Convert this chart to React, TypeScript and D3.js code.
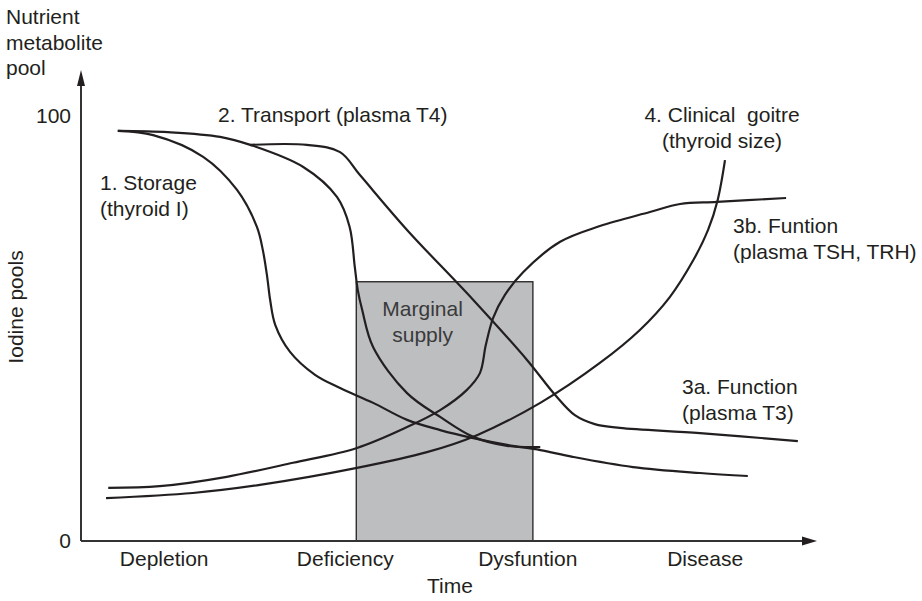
import React from "react";
import * as d3 from "d3";

// ---- data (time 0-100, pool 0-100) ----
const categories = ["Depletion", "Deficiency", "Dysfuntion", "Disease"];
const categoryTimes = [11.3, 35.9, 60.7, 84.8];
const yTicks = [0, 100];

const storageX = [5.0, 9.8, 16.6, 21.2, 23.9, 24.7, 25.3, 25.7, 26.4, 28.4, 31.8, 35.2, 39.7, 44.3, 48.8, 53.3, 57.9, 62.4, 66.8, 75.0, 84.1, 90.6];
const storageY = [96.5, 95.5, 90.4, 82.6, 73.9, 68.5, 62.1, 56.7, 50.8, 44.5, 39.1, 36.0, 32.5, 28.5, 26.1, 24.2, 22.6, 21.4, 19.8, 17.4, 16.0, 15.3];

const transportX = [5.0, 11.8, 18.9, 23.0, 30.2, 34.8, 36.5, 37.2, 37.6, 38.2, 39.7, 44.3, 48.8, 53.3, 57.9, 62.4];
const transportY = [96.5, 96.2, 95.1, 93.2, 88.0, 80.9, 73.9, 64.5, 59.1, 54.4, 45.6, 34.8, 29.2, 24.5, 22.4, 22.1];

const t3X = [23.0, 30.7, 35.2, 37.9, 44.3, 53.3, 60.6, 64.4, 67.1, 69.8, 73.2, 84.1, 97.4];
const t3Y = [93.2, 93.2, 91.5, 86.1, 73.2, 56.7, 42.6, 34.4, 29.6, 27.5, 26.6, 25.4, 23.5];

const tshX = [3.7, 10.7, 19.8, 28.8, 37.5, 44.3, 48.8, 52.4, 54.2, 55.0, 56.0, 57.6, 60.1, 65.1, 70.5, 77.3, 81.4, 86.4, 95.8];
const tshY = [12.5, 12.9, 15.1, 18.4, 21.9, 26.8, 30.8, 35.5, 39.5, 46.1, 52.5, 57.9, 63.3, 70.4, 74.1, 77.4, 79.3, 79.8, 80.7];

const goitreX = [3.4, 15.2, 24.3, 37.5, 47.0, 53.8, 62.4, 70.5, 75.9, 80.0, 83.2, 85.2, 86.5, 87.5];
const goitreY = [10.1, 11.3, 13.2, 17.2, 20.9, 24.9, 32.5, 41.9, 49.6, 57.4, 66.1, 73.2, 80.2, 89.6];

const marginalStart = 37.4;
const marginalEnd = 61.4;
const marginalLevel = 61;

const series = [
  { name: "storage", xs: storageX, ys: storageY },
  { name: "transport", xs: transportX, ys: transportY },
  { name: "t3", xs: t3X, ys: t3Y },
  { name: "tsh", xs: tshX, ys: tshY },
  { name: "goitre", xs: goitreX, ys: goitreY },
];

// ---- layout ----
const W = 922;
const H = 601;
const X0 = 81;
const X1 = 817;
const Y0 = 541;
const YTOP = 70;
const FONT = "'Liberation Sans', Arial, Helvetica, sans-serif";
const INK = "#231f20";
const FS = 21;

const annotations = [
  { lines: ["1. Storage", "(thyroid I)"], x: 100, y: 183, anchor: "start" },
  { lines: ["2. Transport (plasma T4)"], x: 218, y: 115, anchor: "start" },
  { lines: ["4. Clinical\u00a0 goitre", "(thyroid size)"], x: 722, y: 115, anchor: "middle" },
  { lines: ["3b. Funtion", "(plasma TSH, TRH)"], x: 733, y: 226, anchor: "start" },
  { lines: ["3a. Function", "(plasma T3)"], x: 682, y: 387, anchor: "start" },
];

export default function App() {
  const x = d3.scaleLinear().domain([0, 100]).range([X0, X1]);
  const y = d3.scaleLinear().domain([0, 100]).range([Y0, 116]);
  const line = d3
    .line<[number, number]>()
    .x((d) => x(d[0]))
    .y((d) => y(d[1]))
    .curve(d3.curveCatmullRom.alpha(0.5));

  return (
    <svg width={W} height={H} style={{ position: "absolute", left: 0, top: 0, background: "#fff" }} fontFamily={FONT}>
      <rect width={W} height={H} fill="#fff" />
      {/* marginal supply box */}
      <rect
        x={x(marginalStart)}
        y={y(marginalLevel)}
        width={x(marginalEnd) - x(marginalStart)}
        height={y(0) - y(marginalLevel)}
        fill="#bcbec0"
        stroke={INK}
        strokeWidth={1.3}
      />
      <text x={(x(marginalStart) + x(marginalEnd)) / 2 - 22} y={309} dy="0.35em" textAnchor="middle" fontSize={FS} fill="#3a3a3a">
        Marginal
      </text>
      <text x={(x(marginalStart) + x(marginalEnd)) / 2 - 22} y={335} dy="0.35em" textAnchor="middle" fontSize={FS} fill="#3a3a3a">
        supply
      </text>

      {/* curves */}
      {series.map((s) => (
        <path
          key={s.name}
          d={line(s.xs.map((v, i) => [v, s.ys[i]] as [number, number])) || ""}
          fill="none"
          stroke={INK}
          strokeWidth={2.2}
        />
      ))}

      {/* axes */}
      <line x1={X0} y1={Y0} x2={X1 - 12} y2={Y0} stroke="#333" strokeWidth={2} />
      <path d={`M${X1},${Y0} L${X1 - 15},${Y0 - 4.5} L${X1 - 15},${Y0 + 4.5} Z`} fill={INK} />
      <line x1={X0} y1={Y0} x2={X0} y2={YTOP + 12} stroke="#333" strokeWidth={2} />
      <path d={`M${X0},${YTOP} L${X0 - 4},${YTOP + 16} L${X0 + 4},${YTOP + 16} Z`} fill={INK} />

      {yTicks.map((t) => (
        <text key={t} x={71} y={y(t)} dy="0.35em" textAnchor="end" fontSize={FS} fill={INK}>
          {t}
        </text>
      ))}
      {categories.map((c, i) => (
        <text key={c} x={x(categoryTimes[i])} y={559} dy="0.35em" textAnchor="middle" fontSize={FS} fill={INK}>
          {c}
        </text>
      ))}
      <text x={450} y={586} dy="0.35em" textAnchor="middle" fontSize={FS} fill={INK}>
        Time
      </text>
      <text transform="translate(16,307) rotate(-90)" dy="0.35em" textAnchor="middle" fontSize={FS} fill={INK}>
        Iodine pools
      </text>
      {["Nutrient", "metabolite", "pool"].map((t, i) => (
        <text key={t} x={6} y={17 + i * 25.5} dy="0.35em" fontSize={FS} fill={INK}>
          {t}
        </text>
      ))}

      {annotations.map((a, k) => (
        <g key={k}>
          {a.lines.map((l, i) => (
            <text key={i} x={a.x} y={a.y + i * 25.5} dy="0.35em" textAnchor={a.anchor as any} fontSize={FS} fill={INK}>
              {l}
            </text>
          ))}
        </g>
      ))}
    </svg>
  );
}
